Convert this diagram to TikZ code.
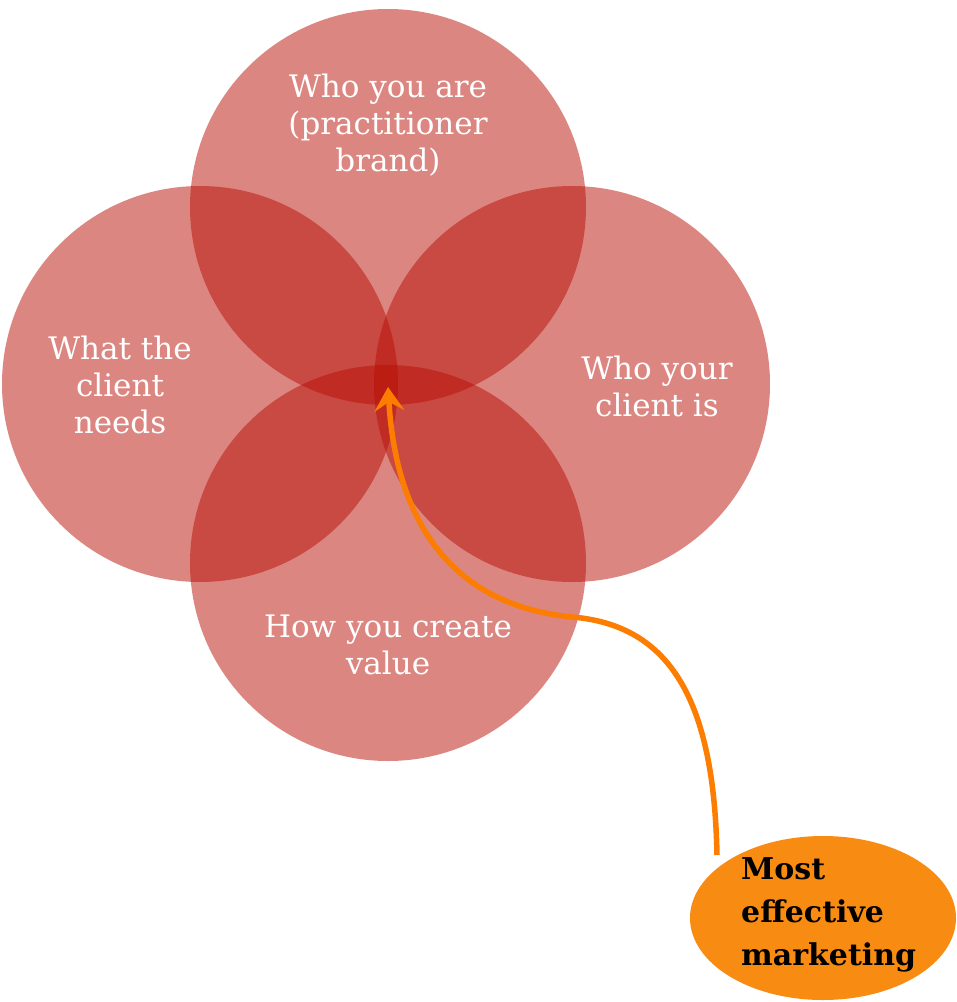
\documentclass[tikz,border=0pt]{standalone}
\usepackage{fontspec}
\setmainfont{DejaVu Serif}
\usetikzlibrary{arrows.meta,shapes.geometric}
\definecolor{vennred}{RGB}{185,15,5}
\definecolor{markorange}{RGB}{248,140,18}
\definecolor{pointorange}{RGB}{252,125,0}
\tikzset{
  venn/.style={circle, minimum size=396pt, inner sep=0pt, fill=vennred, fill opacity=0.5, draw=none},
  vlabel/.style={text=white, align=center, font=\fontsize{31}{37}\selectfont, inner sep=0pt},
  callout/.style={ellipse, fill=markorange, draw=none, minimum width=266pt, minimum height=164pt, inner sep=0pt},
  pointer/.style={draw=pointorange, line width=5.5pt, -{Stealth[length=24pt,width=30pt,inset=9pt]}}
}
\begin{document}
\begin{tikzpicture}[x=1pt,y=-1pt]
  \useasboundingbox[fill=white] (0,0) rectangle (957,1002);
  % four overlapping circles
  \node[venn] (top) at (388,207) {};
  \node[venn] (left) at (200,384) {};
  \node[venn] (right) at (572,384) {};
  \node[venn] (bottom) at (388,563) {};
  % circle captions
  \node[vlabel] (ttop) at (388,125) {Who you are\\(practitioner\\brand)};
  \node[vlabel] (tleft) at (120,385) {What the\\client\\needs};
  \node[vlabel] (tright) at (657,386) {Who your\\client is};
  \node[vlabel] (tbottom) at (388,645) {How you create\\value};
  % callout
  \node[callout] (mark) at (823,918) {};
  \node[align=left, font=\bfseries\fontsize{30}{43}\selectfont, text=black, inner sep=0pt, anchor=west] (tmark) at (741,915) {Most\\effective\\marketing};
  \coordinate (hub) at (388,387);
  \coordinate (start) at (717,855);
  \draw[pointer] (start) .. controls (714,700) and (670,625) .. (572,617)
                 .. controls (450,605) and (396,520) .. (hub);
\end{tikzpicture}
\end{document}
